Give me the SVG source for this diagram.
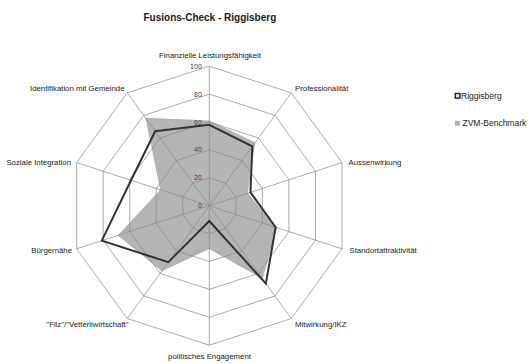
<svg xmlns="http://www.w3.org/2000/svg" width="528" height="363" viewBox="0 0 528 363">
<style>
text{font-family:"Liberation Sans",Arial,sans-serif;fill:#222}
.title{font-size:10px;font-weight:bold}
.ax{font-size:7.8px}
.tick{font-size:7px;fill:#444;text-anchor:end}
.leg{font-size:8.5px}
.grid{fill:none;stroke:#8a8a8a;stroke-width:0.7}
.zvm{fill:#b4b4b4;stroke:none}
.rig{fill:none;stroke:#333;stroke-width:2;stroke-linejoin:miter}
</style>
<rect width="528" height="363" fill="#fff"/>
<text class="title" x="143.5" y="21">Fusions-Check - Riggisberg</text>
<g transform="translate(209.3,205.7)">
<g id="series-zvm">
<polygon class="zvm" points="0,-85.1 45.92,-63.2 38.48,-12.5 67.67,21.98 53.3,73.36 0,43.25 -47.56,65.46 -91.55,29.74 -49.09,-15.95 -63.96,-88.03"/>
</g>
<g id="grid">
<polygon class="grid" points="0,-139.5 82,-112.86 132.68,-43.11 132.68,43.11 82,112.86 0,139.5 -82,112.86 -132.68,43.11 -132.68,-43.11 -82,-112.86"/>
<polygon class="grid" points="0,-111.6 65.6,-90.29 106.14,-34.49 106.14,34.49 65.6,90.29 0,111.6 -65.6,90.29 -106.14,34.49 -106.14,-34.49 -65.6,-90.29"/>
<polygon class="grid" points="0,-83.7 49.2,-67.72 79.61,-25.86 79.61,25.86 49.2,67.72 0,83.7 -49.2,67.72 -79.61,25.86 -79.61,-25.86 -49.2,-67.72"/>
<polygon class="grid" points="0,-55.8 32.8,-45.14 53.07,-17.24 53.07,17.24 32.8,45.14 0,55.8 -32.8,45.14 -53.07,17.24 -53.07,-17.24 -32.8,-45.14"/>
<polygon class="grid" points="0,-27.9 16.4,-22.57 26.54,-8.62 26.54,8.62 16.4,22.57 0,27.9 -16.4,22.57 -26.54,8.62 -26.54,-8.62 -16.4,-22.57"/>
<path class="grid" d="M0,0V-139.5M0,0L82,-112.86M0,0L132.68,-43.11M0,0L132.68,43.11M0,0L82,112.86M0,0V139.5M0,0L-82,112.86M0,0L-132.68,43.11M0,0L-132.68,-43.11M0,0L-82,-112.86"/>
</g>
<g id="series-riggisberg">
<polygon class="rig" points="0,-80.91 43.05,-59.25 41.13,-13.36 66.34,21.55 56.58,77.87 0,15.35 -41,56.43 -107.47,34.92 -78.28,-25.43 -54.12,-74.49"/>
</g>
<g id="ticks">
<text class="tick" x="-7.5" y="2.5">0</text>
<text class="tick" x="-7.5" y="-25.4">20</text>
<text class="tick" x="-7.5" y="-53.3">40</text>
<text class="tick" x="-7.5" y="-81.2">60</text>
<text class="tick" x="-7.5" y="-109.1">80</text>
<text class="tick" x="-7.5" y="-137">100</text>
</g>
</g>
<g id="labels">
<text class="ax" x="210" y="58" text-anchor="middle">Finanzielle Leistungsfähigkeit</text>
<text class="ax" x="295" y="91">Professionalität</text>
<text class="ax" x="348.5" y="165">Aussenwirkung</text>
<text class="ax" x="349.5" y="253">Standortattraktivität</text>
<text class="ax" x="295" y="327">Mitwirkung/IKZ</text>
<text class="ax" x="209.5" y="359" text-anchor="middle">politisches Engagement</text>
<text class="ax" x="128.5" y="327" text-anchor="end">"Filz"/"Vetterliwirtschaft"</text>
<text class="ax" x="72" y="253" text-anchor="end">Bürgernähe</text>
<text class="ax" x="71" y="165" text-anchor="end">Soziale Integration</text>
<text class="ax" x="124.5" y="91" text-anchor="end">Identifikation mit Gemeinde</text>
</g>
<g id="legend">
<rect x="455.3" y="93.5" width="4.6" height="4.6" fill="#eee" stroke="#222" stroke-width="1.4"/>
<text class="leg" x="461" y="99">Riggisberg</text>
<rect x="454.8" y="120.8" width="5" height="5" fill="#b4b4b4"/>
<text class="leg" x="462.5" y="126">ZVM-Benchmark</text>
</g>
</svg>
